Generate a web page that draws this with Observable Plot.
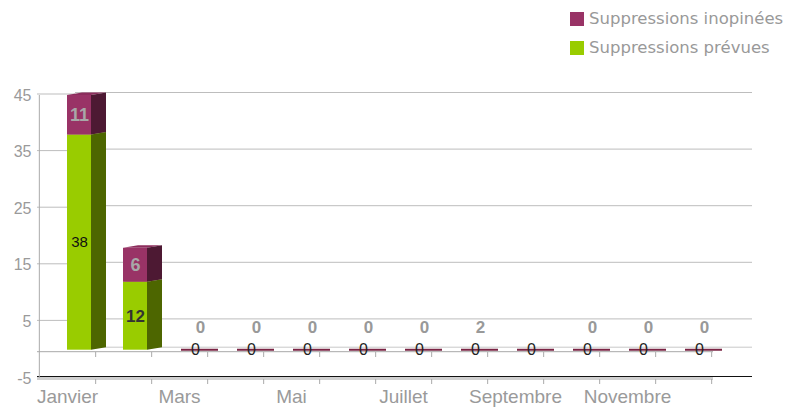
<!DOCTYPE html>
<html><head><meta charset="utf-8">
<script src="https://cdn.jsdelivr.net/npm/d3@7"></script>
<script src="https://cdn.jsdelivr.net/npm/@observablehq/plot@0.6"></script>
<style>
body{margin:0;background:#fff;}
#wrap{position:relative;width:787px;height:409px;overflow:hidden;background:#fff;}
#legend{position:absolute;left:570px;top:4px;font-family:"DejaVu Sans";font-size:16.5px;color:#999;}
.item{display:flex;align-items:center;height:29px;}
.sw{width:14px;height:14px;margin-right:5px;flex:none;}
</style></head><body><div id="wrap"><div id="legend"></div></div>
<script>
const months = ["Janvier","Février","Mars","Avril","Mai","Juin","Juillet","Août","Septembre","Octobre","Novembre","Décembre"];
const prevues = [38,12,0,0,0,0,0,0,0,0,0,0];
const inopinees = [11,6,0,0,0,0,0,0,0,0,0,0];
const inopineesLabels = ["11","6","0","0","0","0","0","2","","0","0","0"];
const yTicks = [-5,5,15,25,35,45];
const xLabelMonths = ["Janvier","Mars","Mai","Juillet","Septembre","Novembre"];
const SERIE_PREV = "Suppressions prévues";
const SERIE_INOP = "Suppressions inopinées";
const legendOrder = [SERIE_INOP, SERIE_PREV];

const colors = {
  [SERIE_PREV]: "#99cc00",
  [SERIE_INOP]: "#993366",
  [SERIE_PREV + " side"]: "#4d6600",
  [SERIE_INOP + " side"]: "#4d1933",
  [SERIE_PREV + " top"]: "#a3d11a",
  [SERIE_INOP + " top"]: "#8c2d5c"
};

const yMax = 45;
const rows = months.flatMap((m, i) => [
  {month: m, series: SERIE_PREV, value: prevues[i]},
  {month: m, series: SERIE_INOP, value: inopinees[i]}
]);
const prevLabels = months.map((m, i) => ({month: m, y: prevues[i] / 2, text: String(prevues[i]), v: prevues[i]}));
const inopLabels = months.map((m, i) => ({
  month: m,
  y: inopinees[i] > 0 ? prevues[i] + Math.min(inopinees[i], yMax - prevues[i]) / 2 : 0,
  text: inopineesLabels[i], v: inopinees[i]
}));

const W = 787, ML = 37, MR = 74;
const step = (W - ML - MR) / months.length;
const grid = "#bdbdbd";
const OFF = 12, DEPTH = 15, RISE = 2.5;

// draws the side and top faces of each stacked segment from the scaled bar channels
function faces(index, scales, values) {
  const g = d3.create("svg:g");
  const bw = scales.x.bandwidth();
  for (const i of index) {
    const x0 = values.x[i] + OFF, x1 = x0 + bw;
    const yt = Math.min(values.y1[i], values.y2[i]);
    const yb = Math.max(values.y1[i], values.y2[i]);
    if (yb - yt < 0.5) continue;
    const key = rows[i].series;
    g.append("path")
      .attr("d", `M${x0},${yt}L${x1},${yt}L${x1 + DEPTH},${yt - RISE}L${x0 + DEPTH},${yt - RISE}Z`)
      .attr("fill", colors[key + " top"]);
    g.append("path")
      .attr("d", `M${x1},${yb}L${x1 + DEPTH},${yb - RISE}L${x1 + DEPTH},${yt - RISE}L${x1},${yt}Z`)
      .attr("fill", colors[key + " side"]);
  }
  return g.node();
}

const plot = Plot.plot({
  width: W, height: 409,
  marginTop: 95, marginBottom: 31, marginLeft: ML, marginRight: MR,
  x: {domain: months, paddingInner: 0.57, paddingOuter: 0.285},
  y: {domain: [-5, yMax], clamp: true},
  color: {domain: Object.keys(colors), range: Object.values(colors)},
  style: {fontFamily: "Liberation Sans", overflow: "visible", background: "#fff"},
  marks: [
    // back wall grid
    Plot.ruleY(yTicks.filter(t => t > 0), {dy: -3, insetLeft: 38, insetRight: -39, stroke: grid}),
    Plot.ruleY(yTicks.filter(t => t > 0), {dy: -1.5, insetRight: W - ML - MR - 38, stroke: grid}),
    Plot.ruleY([0], {dy: -3, insetLeft: 38, insetRight: -39, stroke: "#c8c8c8"}),
    Plot.ruleY([0], {dy: 1.5, stroke: "#a8a8a8"}),
    // floor
    Plot.ruleY([-5], {stroke: "#d0d0d0", strokeWidth: 3, dy: 0}),
    Plot.ruleY([-5], {stroke: "#111", strokeWidth: 1.2, dy: -2, insetRight: -39}),
    // y axis line
    Plot.ruleX([months[0]], {dx: -step / 2, y1: -5, y2: yMax, stroke: "#aaa"}),
    // x ticks at both levels
    Plot.axisX({tickSize: 5, dx: step / 2, dy: -26, tickFormat: () => "", stroke: "#aaa", label: null}),
    Plot.axisX({tickSize: 5, dx: step / 2, dy: 1, tickFormat: () => "", stroke: "#aaa", label: null}),
    Plot.axisX({ticks: xLabelMonths, tickSize: 0, tickPadding: 11, fontSize: 19, fill: "#9a9a9a", label: null}),
    Plot.axisY({ticks: yTicks, tickSize: 0, tickPadding: 6, fontSize: 16, fill: "#9a9a9a", label: null, tickFormat: d => String(d)}),
    // 3D bars: side/top faces then front
    Plot.barY(rows, {x: "month", y: "value", fill: "series", render: faces}),
    Plot.barY(rows, {x: "month", y: "value", fill: "series", dx: OFF}),
    // flat (zero) bars
    Plot.tickY(rows.filter(d => d.series === SERIE_INOP && d.value === 0), {
      x: "month", y: "value", dx: OFF, dy: -0.5, insetLeft: 2, insetRight: -15, stroke: "#7a2444", strokeWidth: 2
    }),
    // labels
    Plot.text(prevLabels.filter(d => d.v > 0 && d.month === "Janvier"), {x: "month", y: "y", text: "text", dx: OFF, fontSize: 15, fill: "#111"}),
    Plot.text(prevLabels.filter(d => d.v > 0 && d.month !== "Janvier"), {x: "month", y: "y", text: "text", dx: OFF, fontSize: 17, fontWeight: "bold", fill: "#333"}),
    Plot.text(prevLabels.filter(d => d.v === 0), {x: "month", y: "y", text: "text", dx: 16, fontSize: 16, fill: "#222"}),
    Plot.text(inopLabels.filter(d => d.v > 0), {x: "month", y: "y", text: "text", dx: OFF, fontSize: 18, fontWeight: "bold", fill: "#a8a8a8"}),
    Plot.text(inopLabels.filter(d => d.v === 0), {x: "month", y: "y", text: "text", dx: 21, dy: -23, fontSize: 17, fontWeight: "bold", fill: "#999"})
  ]
});
document.getElementById("wrap").prepend(plot);

const legend = document.getElementById("legend");
for (const s of legendOrder) {
  const it = document.createElement("div");
  it.className = "item";
  const sw = document.createElement("span");
  sw.className = "sw";
  sw.style.background = colors[s];
  const t = document.createElement("span");
  t.textContent = s;
  it.append(sw, t);
  legend.append(it);
}
</script></body></html>
